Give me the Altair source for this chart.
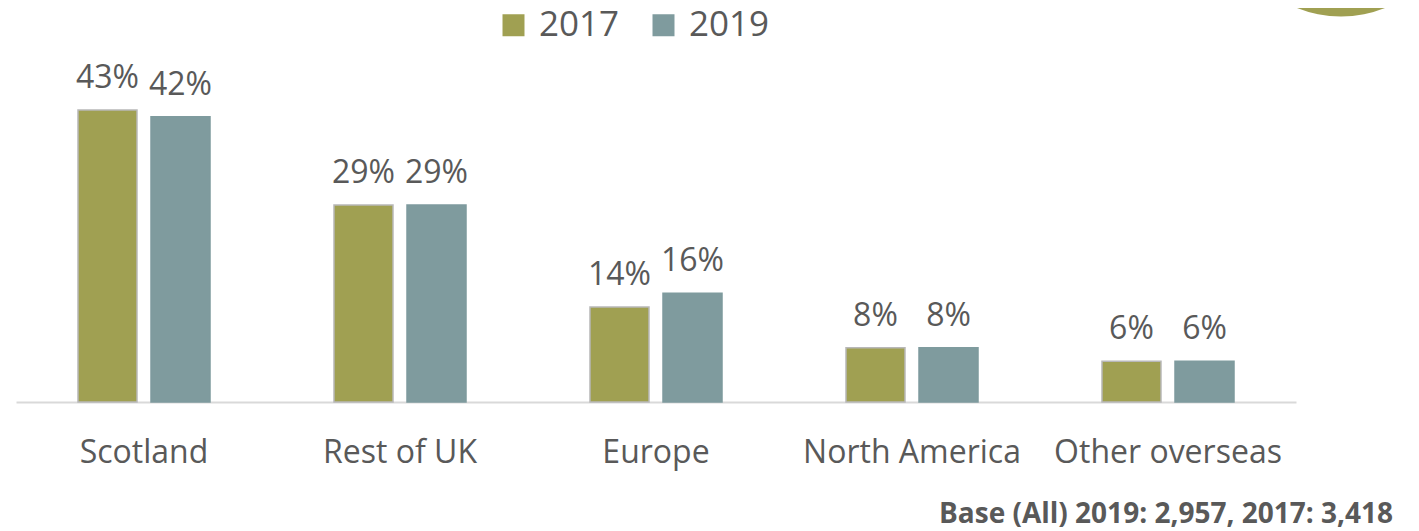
import altair as alt
import pandas as pd

categories = ["Scotland", "Rest of UK", "Europe", "North America", "Other overseas"]
years = ["2017", "2019"]
values_2017 = [43, 29, 14, 8, 6]
values_2019 = [42, 29, 16, 8, 6]
footnote = "Base (All) 2019: 2,957, 2017: 3,418"

rows = []
for c, a, b in zip(categories, values_2017, values_2019):
    rows.append({"Region": c, "Year": "2017", "Value": a, "Label": f"{a}%"})
    rows.append({"Region": c, "Year": "2019", "Value": b, "Label": f"{b}%"})
df = pd.DataFrame(rows)

FONT = "Open Sans"
GREY = "#595959"
OLIVE = "#A0A052"
TEAL = "#7F9B9E"

x_enc = alt.X("Region:N", sort=categories, title=None,
              scale=alt.Scale(paddingInner=0, paddingOuter=0),
              axis=alt.Axis(labelAngle=0, ticks=False, domainColor="#D9D9D9",
                            domainWidth=2, labelFont=FONT, labelFontSize=32,
                            labelColor=GREY, labelBaseline="alphabetic",
                            labelPadding=60, labelLimit=400, grid=False))
xoff = alt.XOffset("Year:N", sort=years,
                   scale=alt.Scale(paddingInner=0.1918, paddingOuter=0.849))
y_enc = alt.Y("Value:Q", scale=alt.Scale(domain=[0, 50]), axis=None)

bars = alt.Chart(df).mark_bar(strokeWidth=1.5, clip=False).encode(
    x=x_enc,
    xOffset=xoff,
    y=y_enc,
    color=alt.Color("Year:N", sort=years,
                    scale=alt.Scale(domain=years, range=[OLIVE, TEAL]),
                    legend=alt.Legend(title=None, orient="none", direction="horizontal",
                                      legendX=480, legendY=-55, symbolType="square",
                                      symbolSize=484, symbolStrokeWidth=0,
                                      labelFont=FONT, labelFontSize=35,
                                      labelColor=GREY, labelOffset=8,
                                      labelLimit=300,
                                      columnPadding=26, padding=0)),
    stroke=alt.Stroke("Year:N", sort=years,
                      scale=alt.Scale(domain=years, range=["#B8B8B8", TEAL]),
                      legend=None),
)

labels = alt.Chart(df).mark_text(font=FONT, fontSize=32, color=GREY,
                                 baseline="alphabetic", dy=-22).encode(
    x=alt.X("Region:N", sort=categories),
    xOffset=alt.XOffset("Year:N", sort=years),
    y=y_enc,
    text="Label:N",
)

foot = alt.Chart(pd.DataFrame({"t": [footnote]})).mark_text(
    font=FONT, fontSize=28, fontWeight="bold", color=GREY,
    align="right", baseline="alphabetic").encode(
    x=alt.value(1377), y=alt.value(460), text="t:N")

circle = alt.Chart(pd.DataFrame({"t": [1]})).mark_arc(
    color=OLIVE, opacity=1, radius=118, theta=0, theta2=6.2832).encode(
    x=alt.value(1325), y=alt.value(-164))

chart = alt.layer(circle, bars, labels, foot).properties(
    width=1280, height=339.5,
    padding={"left": 8, "top": 54.5, "right": 110, "bottom": 128},
    autosize=alt.AutoSizeParams(type="none"),
).configure(background="white", view=alt.ViewConfig(stroke=None))

chart.save("out.html", embed_options={"renderer": "svg", "actions": False})
